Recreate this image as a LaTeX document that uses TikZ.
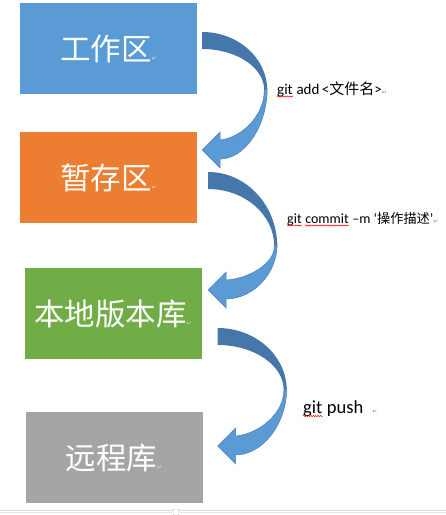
\documentclass[tikz,border=0pt]{standalone}
\usepackage{fontspec}
\setmainfont{Carlito}
\newfontfamily\cjk{Noto Sans CJK SC}
\newfontfamily\symfont{DejaVu Sans}
\usetikzlibrary{decorations.pathmorphing}
\definecolor{boxblue}{HTML}{5B9BD5}
\definecolor{boxorange}{HTML}{ED7D31}
\definecolor{boxgreen}{HTML}{70AD47}
\definecolor{boxgray}{HTML}{A5A5A5}
\definecolor{arrdark}{HTML}{4677AA}
\definecolor{arrlight}{HTML}{5B9BD5}
\definecolor{arredge}{HTML}{4A80B8}
\newcommand{\pmark}[1]{{\symfont\fontsize{6}{6}\selectfont\color{#1}↵}}
\begin{document}
\begin{tikzpicture}[x=1pt,y=-1pt,
  box/.style={minimum width=177pt, minimum height=91pt, inner sep=0pt, text=white,
    font=\cjk\fontsize{30.5}{31}\selectfont},
  lbl/.style={inner sep=0pt, anchor=base west, text=black},
  wavy/.style={red, line width=0.5pt, decorate, decoration={snake, amplitude=0.6pt, segment length=2.4pt}},
  pics/curvarrow/.style 2 args={code={
    \fill[arrdark] (0,0) .. controls ({0.55*#1},0) and (#1,{0.45*#2}) .. (#1,#2)
      -- ({#1-3},#2) .. controls ({#1-3},{#2-0.55*(#2-17)}) and ({0.55*(#1-3)},17) .. (0,17) -- cycle;
    \filldraw[fill=arrlight, draw=arredge, line width=0.5pt]
      (#1,{#2-2}) .. controls (#1,{#2+0.55*(127-#2)}) and ({18+0.5*(#1-18)},127) .. (18,127)
      -- (18,136) -- (0,118) -- (18,100) -- (18,108)
      .. controls ({18+0.5*(#1-21)},{108-0.05*(108-#2)}) and ({#1-3},{#2+0.5*(108-#2)}) .. ({#1-3},{#2+1})
      -- cycle;
  }}
]
\useasboundingbox (0,0) rectangle (446,515);

% boxes
\node[box, fill=boxblue]   (work)   at (108.5,48.5)  {工作区\pmark{white!75!gray}};
\node[box, fill=boxorange] (stage)  at (108.5,177.5) {暂存区\pmark{white!75!gray}};
\node[box, fill=boxgreen]  (local)  at (113,313.5)   {本地版本库\pmark{white!75!gray}};
\node[box, fill=boxgray]   (remote) at (114,457.5)   {远程库\pmark{white!75!gray}};

% arrow anchors
\coordinate (a1) at ([xshift=5pt]work.east |- 0,32);
\coordinate (a2) at ([xshift=11pt]stage.east |- 0,172);
\coordinate (a3) at ([xshift=16pt]local.east |- 0,328);
\pic at (a1) {curvarrow={65}{58}};
\pic at (a2) {curvarrow={69}{74}};
\pic at (a3) {curvarrow={69}{62}};

% labels
\node[lbl, font=\fontsize{15}{18}\selectfont] (g1) at (277,94) {git};
\node[lbl, font=\fontsize{15}{18}\selectfont] (l1) at (g1.base east)
  {\ add\,<{\cjk\fontsize{15}{18}\selectfont 文件名}>\pmark{gray}};
\draw[wavy] ([yshift=-2.5pt]g1.base west) -- ([yshift=-2.5pt]g1.base east);

\node[lbl, font=\fontsize{14}{18}\selectfont] (g2) at (287,223) {git};
\node[lbl, font=\fontsize{14}{18}\selectfont] (c2) at ([xshift=3.2pt]g2.base east) {commit};
\node[lbl, font=\fontsize{14}{18}\selectfont] (l2) at (c2.base east)
  {\ –m ‘{\cjk\fontsize{13.2}{18}\selectfont 操作描述}’\pmark{gray}};
\draw[wavy] ([yshift=-2.5pt]g2.base west) -- ([yshift=-2.5pt]g2.base east);
\draw[wavy] ([yshift=-2.5pt]c2.base west) -- ([yshift=-2.5pt]c2.base east);

\node[lbl, font=\fontsize{18.5}{20}\selectfont] (g3) at (303,413) {git};
\node[lbl, font=\fontsize{18.5}{20}\selectfont] (l3) at (g3.base east) {\ push\hspace{9pt}\pmark{gray}};
\draw[wavy] ([yshift=-3pt]g3.base west) -- ([yshift=-3pt]g3.base east);

% page edge with handle
\coordinate (e1) at (0,510);
\coordinate (e2) at (446,510);
\draw[gray!30, line width=0.8pt] (e1) -- (e2);
\draw[gray!20, line width=0.8pt] ([yshift=-2pt]e1) -- ([yshift=-2pt]e2);
\node[draw=gray!55, fill=white, minimum width=6pt, minimum height=6pt, inner sep=0pt, rounded corners=1pt] (handle) at (176,512) {};
\end{tikzpicture}
\end{document}
